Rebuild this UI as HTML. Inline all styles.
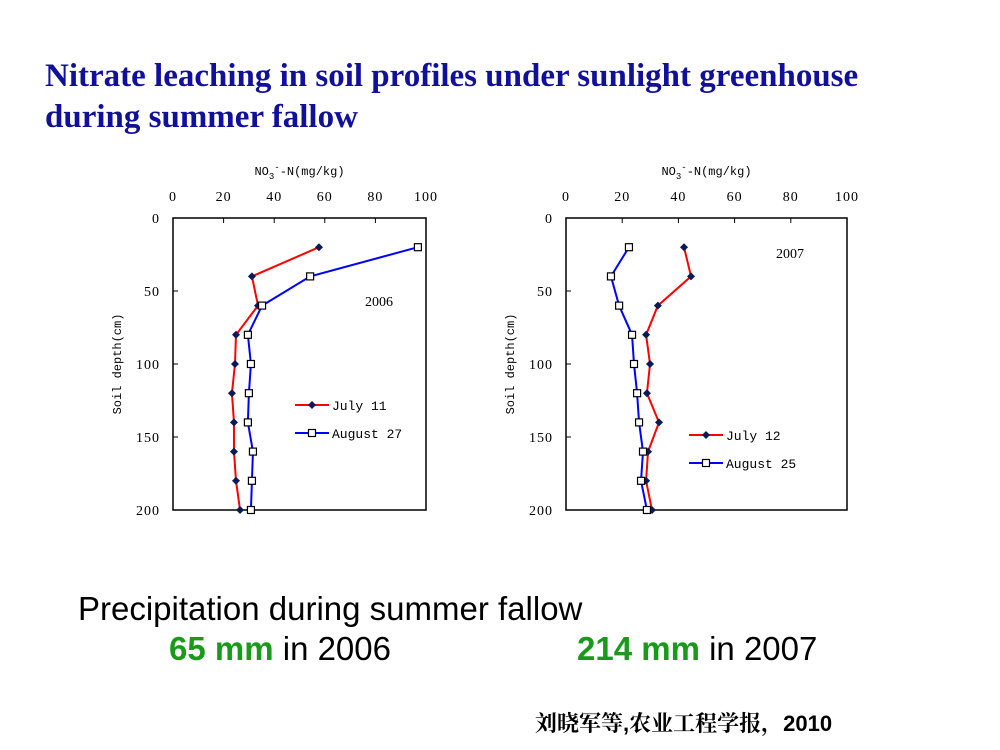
<!DOCTYPE html>
<html><head><meta charset="utf-8"><style>
body{margin:0;background:#fff;width:1000px;height:750px;overflow:hidden;position:relative;font-family:"Liberation Sans",sans-serif}
.t{position:absolute;left:45px;top:56px;font-family:"Liberation Serif",serif;font-weight:bold;font-size:33px;color:#10109a;line-height:41px;white-space:nowrap}
.p{position:absolute;font-size:33px;color:#000;white-space:nowrap}
.g{color:#1a9a1a;font-weight:bold}
</style></head><body>
<div class="t">Nitrate leaching in soil profiles under sunlight greenhouse<br>during summer fallow</div>
<svg id="svg" width="1000" height="750" style="position:absolute;left:0;top:0"></svg>
<div class="p" style="left:78px;top:590px">Precipitation during summer fallow</div>
<div class="p" style="left:169px;top:630px"><span class="g">65 mm</span> in 2006</div>
<div class="p" style="left:577px;top:630px"><span class="g">214 mm</span> in 2007</div>
<div style="position:absolute;left:535px;top:707px;font-size:22px;font-weight:bold;white-space:nowrap;font-family:'Liberation Sans','Noto Serif CJK SC','Noto Sans CJK SC',sans-serif">刘晓军等,农业工程学报，2010</div>
<script>
const depths=[20,40,60,80,100,120,140,160,180,200];
const xTicks=[0,20,40,60,80,100];
const yTicks=[0,50,100,150,200];
const july11=[57.7,31.2,33.6,24.9,24.5,23.3,24.1,24.1,24.9,26.5];
const aug27=[96.8,54.2,35.2,29.6,30.8,30.0,29.6,31.6,31.2,30.8];
const july12=[42,44.5,32.7,28.5,29.9,28.8,33.1,29.2,28.5,30.6];
const aug25=[22.4,16,18.9,23.5,24.2,25.3,26,27.4,26.7,28.8];
const svg=document.getElementById('svg');
const NS='http://www.w3.org/2000/svg';
function mk(tag,a,p){const e=document.createElementNS(NS,tag);for(const k in a)e.setAttribute(k,a[k]);(p||svg).appendChild(e);return e;}
function chart(x0,x1,y0,y1,s1,s2,n1,n2,year,yrX,yrY,legX,legY,name){
  const g=mk('g',{});
  
  
  const sx=v=>x0+(x1-x0)*v/100, sy=v=>y0+(y1-y0)*v/200;
  const ff='Liberation Mono,DejaVu Sans Mono,monospace';
  mk('rect',{x:x0,y:y0,width:x1-x0,height:y1-y0,fill:'none',stroke:'#000','stroke-width':1.5},g);
  xTicks.forEach(t=>{mk('line',{x1:sx(t),x2:sx(t),y1:y0,y2:y0+5,stroke:'#000'},g);
    const tx=mk('text',{x:sx(t),y:y0-17,'text-anchor':'middle','font-size':14,'font-family':'Liberation Serif,serif','letter-spacing':1},g);tx.textContent=t;
    });
  yTicks.forEach(t=>{mk('line',{x1:x0,x2:x0+5,y1:sy(t),y2:sy(t),stroke:'#000'},g);
    const tx=mk('text',{x:x0-13,y:sy(t)+5,'text-anchor':'end','font-size':14,'font-family':'Liberation Serif,serif','letter-spacing':1},g);tx.textContent=t;
    });
  const xt=mk('text',{x:(x0+x1)/2,y:y0-43,'text-anchor':'middle','font-size':12,'font-family':ff},g);
  xt.innerHTML='NO<tspan font-size="9" dy="4">3</tspan><tspan dy="-9" font-size="9">-</tspan><tspan dy="5">-N(mg/kg)</tspan>';
  
  const yt=mk('text',{x:0,y:0,'text-anchor':'middle','font-size':12,'font-family':ff,transform:`translate(${x0-52},${(y0+y1)/2}) rotate(-90)`},g);
  yt.textContent='Soil depth(cm)';
  const yr=mk('text',{x:yrX,y:yrY,'font-size':14,'font-family':'Liberation Serif,serif'},g);yr.textContent=year;
  
  function series(vals,color,diamond,sn){
    const pl=mk('polyline',{points:vals.map((v,i)=>sx(v)+','+sy(depths[i])).join(' '),fill:'none',stroke:color,'stroke-width':2},g);
    
    vals.forEach((v,i)=>{const cx=sx(v),cy=sy(depths[i]);let m;
      if(diamond)m=mk('polygon',{points:`${cx},${cy-4} ${cx+4},${cy} ${cx},${cy+4} ${cx-4},${cy}`,fill:'#0a1a55'},g);
      else m=mk('rect',{x:cx-3.5,y:cy-3.5,width:7,height:7,fill:'#fff',stroke:'#000','stroke-width':1.2},g);
      });
  }
  series(s1,'#f00',true,'series-'+n1.replace(/\s/g,'-').toLowerCase());
  series(s2,'#00f',false,'series-'+n2.replace(/\s/g,'-').toLowerCase());
  [[n1,'#f00',true],[n2,'#00f',false]].forEach((L,i)=>{const ly=legY+i*28;
    mk('line',{x1:legX,x2:legX+34,y1:ly,y2:ly,stroke:L[1],'stroke-width':2},g);
    const c=legX+17;
    if(L[2])mk('polygon',{points:`${c},${ly-4} ${c+4},${ly} ${c},${ly+4} ${c-4},${ly}`,fill:'#0a1a55'},g);
    else mk('rect',{x:c-3.5,y:ly-3.5,width:7,height:7,fill:'#fff',stroke:'#000','stroke-width':1.2},g);
    const t=mk('text',{x:legX+37,y:ly+5,'font-size':13,'font-family':ff},g);t.textContent=L[0];
    });
}
chart(173,426,218,510,july11,aug27,'July 11','August 27','2006',365,306,295,405,'chart-2006');
chart(566,847,218,510,july12,aug25,'July 12','August 25','2007',776,258,689,435,'chart-2007');
</script>
</body></html>
